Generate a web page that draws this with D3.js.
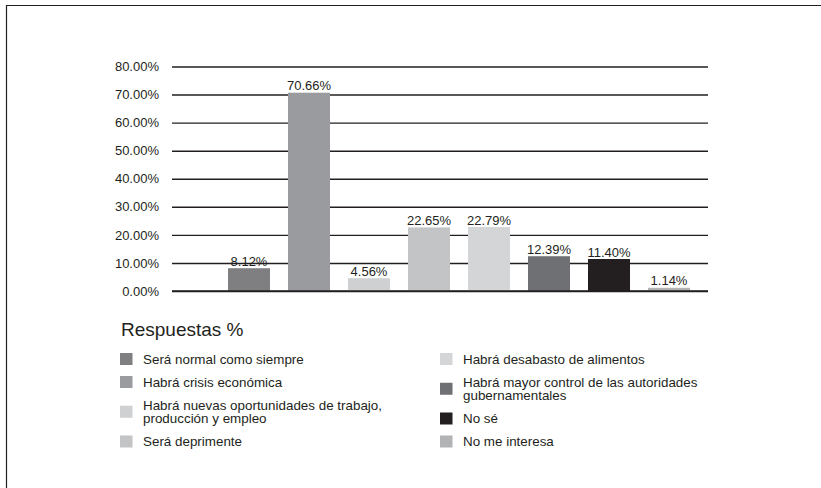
<!DOCTYPE html>
<html>
<head>
<meta charset="utf-8">
<script src="https://cdn.jsdelivr.net/npm/d3@7"></script>
<style>
  body { margin: 0; background: #fff; }
  svg { display: block; font-family: "Liberation Sans", Arial, sans-serif; }
</style>
</head>
<body>
<svg id="chart" width="821" height="488"></svg>
<script>
const categories = [
  "Será normal como siempre",
  "Habrá crisis económica",
  "Habrá nuevas oportunidades de trabajo, producción y empleo",
  "Será deprimente",
  "Habrá desabasto de alimentos",
  "Habrá mayor control de las autoridades gubernamentales",
  "No sé",
  "No me interesa"
];
const legendLines = [
  ["Será normal como siempre"],
  ["Habrá crisis económica"],
  ["Habrá nuevas oportunidades de trabajo,", "producción y empleo"],
  ["Será deprimente"],
  ["Habrá desabasto de alimentos"],
  ["Habrá mayor control de las autoridades", "gubernamentales"],
  ["No sé"],
  ["No me interesa"]
];
const values = [8.12, 70.66, 4.56, 22.65, 22.79, 12.39, 11.40, 1.14];
const valueLabels = ["8.12%", "70.66%", "4.56%", "22.65%", "22.79%", "12.39%", "11.40%", "1.14%"];
const colors = ["#7f7f82", "#9a9b9e", "#cfd0d2", "#c3c4c6", "#d4d5d7", "#6f7073", "#231f20", "#b2b3b5"];
const yTicks = [0, 10, 20, 30, 40, 50, 60, 70, 80];
const yTickLabels = ["0.00%", "10.00%", "20.00%", "30.00%", "40.00%", "50.00%", "60.00%", "70.00%", "80.00%"];
const legendTitle = "Respuestas %";

const svg = d3.select("#chart");
const textColor = "#231f20";

// frame (top and left edges)
svg.append("line").attr("x1", 6).attr("x2", 821).attr("y1", 5.5).attr("y2", 5.5)
  .attr("stroke", "#231f20").attr("stroke-width", 1.2);
svg.append("line").attr("x1", 6.5).attr("x2", 6.5).attr("y1", 5).attr("y2", 488)
  .attr("stroke", "#231f20").attr("stroke-width", 1.2);

const y = d3.scaleLinear().domain([0, 80]).range([291, 66.5]);
const x = d3.scaleBand().domain(categories).range([219, 699]).paddingInner(0.3).paddingOuter(0.15);

// gridlines
const yAxis = d3.axisLeft(y).tickValues(yTicks)
  .tickFormat((d, i) => yTickLabels[i])
  .tickSize(-(708 - 172)).tickPadding(13);
const gAxis = svg.append("g").attr("transform", "translate(172,0)").call(yAxis);
gAxis.select(".domain").remove();
gAxis.selectAll(".tick line").attr("stroke", "#231f20").attr("stroke-width", 1.4);
gAxis.selectAll(".tick text").attr("fill", textColor).style("font-size", "13px");

// bars
svg.append("g").selectAll("rect").data(values).join("rect")
  .attr("x", (d, i) => x(categories[i]))
  .attr("width", x.bandwidth())
  .attr("y", d => y(d))
  .attr("height", d => y(0) - y(d))
  .attr("fill", (d, i) => colors[i]);

// baseline on top of bars
svg.append("line").attr("x1", 172).attr("x2", 708).attr("y1", y(0)).attr("y2", y(0))
  .attr("stroke", "#231f20").attr("stroke-width", 1.4);

// value labels
svg.append("g").selectAll("text").data(values).join("text")
  .attr("x", (d, i) => x(categories[i]) + x.bandwidth() / 2)
  .attr("y", d => y(d) - 2.5)
  .attr("text-anchor", "middle")
  .attr("fill", textColor)
  .style("font-size", "13px")
  .text((d, i) => valueLabels[i]);

// legend title
svg.append("text").attr("x", 121).attr("y", 336)
  .attr("fill", textColor).style("font-size", "19px").text(legendTitle);

// legend
const cols = [{x: 120, start: 347.5, items: [0, 1, 2, 3]}, {x: 440, start: 347.5, items: [4, 5, 6, 7]}];
const lineH = 13.5;
cols.forEach(col => {
  let top = col.start;
  col.items.forEach(i => {
    const lines = legendLines[i];
    const h = 23 + lineH * (lines.length - 1);
    const cy = top + h / 2;
    svg.append("rect").attr("x", col.x).attr("y", cy - 6).attr("width", 12.5).attr("height", 12)
      .attr("fill", colors[i]);
    const t = svg.append("text").attr("fill", textColor).style("font-size", "13.4px");
    lines.forEach((ln, j) => {
      t.append("tspan").attr("x", col.x + 23)
        .attr("y", cy + (j - (lines.length - 1) / 2) * lineH + 4.5)
        .text(ln);
    });
    top += h;
  });
});
</script>
</body>
</html>
